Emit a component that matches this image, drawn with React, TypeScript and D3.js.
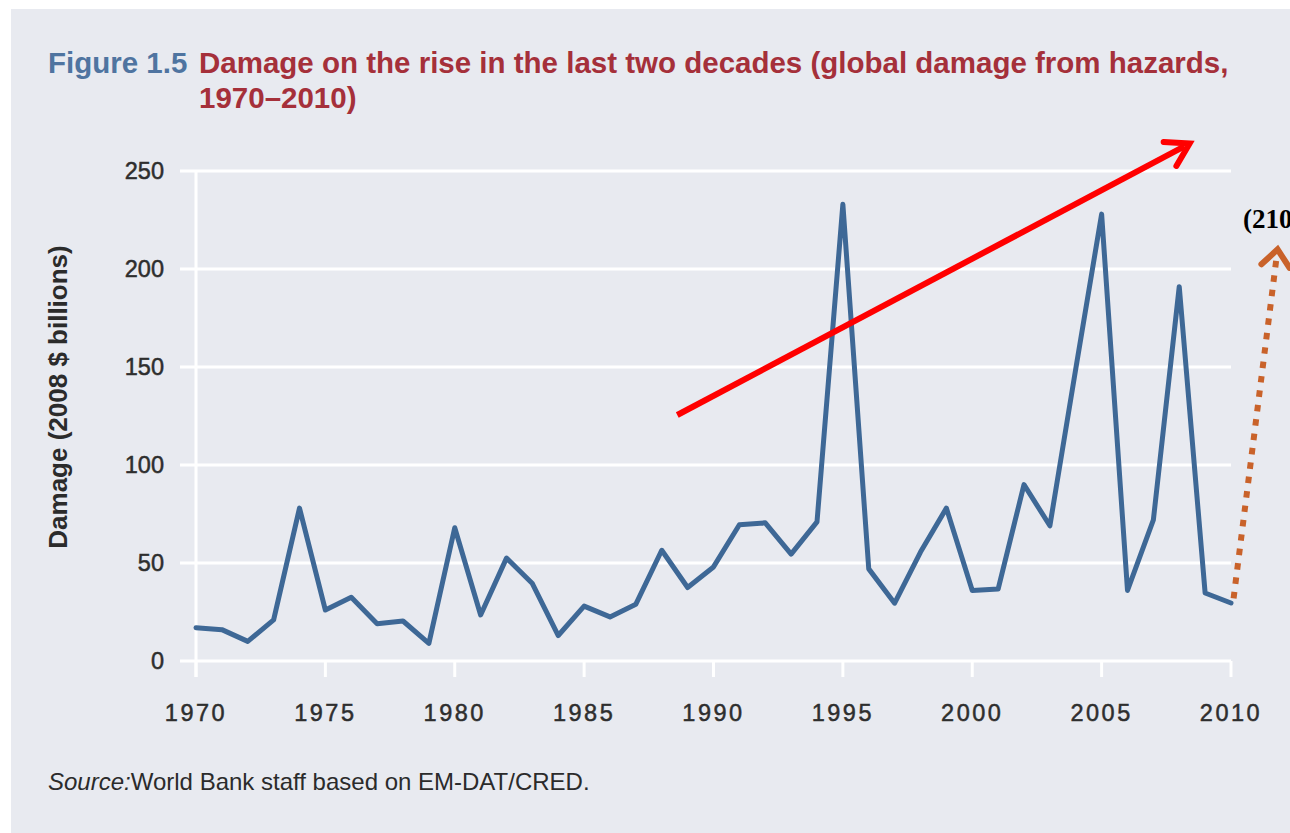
import React from "react";
import * as d3 from "d3";

const years: number[] = d3.range(1970, 2011);
const damage: number[] = [
  17, 16, 10, 21, 78, 26, 32.5, 19, 20.4, 9,
  68, 23.5, 52.5, 39.5, 13, 28, 22.5, 29, 56.5, 37.5,
  48, 69.5, 70.5, 54.5, 71, 233, 47, 29.5, 55.6, 78,
  36, 36.7, 90, 69, 149, 228, 36, 72, 191, 34.7, 29.6,
];
const yTicks: number[] = [0, 50, 100, 150, 200, 250];
const xTicks: number[] = [1970, 1975, 1980, 1985, 1990, 1995, 2000, 2005, 2010];

// annotations in data units
const redArrow: [number, number][] = [[1988.6, 125.5], [2008.4, 264]];
const orangeArrow: [number, number][] = [[2010.1, 32], [2011.8, 210]];

const W = 1290;
const H = 833;

export default function App() {
  const x = d3.scaleLinear().domain([1970, 2010]).range([196, 1231]);
  const y = d3.scaleLinear().domain([0, 250]).range([661, 171]);
  const line = d3
    .line<number>()
    .x((_, i) => x(years[i]))
    .y((d) => y(d));

  const axisFont = "'Liberation Sans', Arial, sans-serif";

  const r0 = [x(redArrow[0][0]), y(redArrow[0][1])];
  const r1 = [x(redArrow[1][0]), y(redArrow[1][1])];
  const rAng = Math.atan2(r1[1] - r0[1], r1[0] - r0[0]);
  const head = (p: number[], ang: number, len: number, spread: number) => {
    const a1 = ang + Math.PI - spread;
    const a2 = ang + Math.PI + spread;
    return `M${p[0] + len * Math.cos(a1)},${p[1] + len * Math.sin(a1)} L${p[0]},${p[1]} L${p[0] + len * Math.cos(a2)},${p[1] + len * Math.sin(a2)}`;
  };
  const o0 = [x(orangeArrow[0][0]), y(orangeArrow[0][1])];
  const o1 = [x(orangeArrow[1][0]), y(orangeArrow[1][1])];
  const oAng = Math.atan2(o1[1] - o0[1], o1[0] - o0[0]);

  const labelStyle = {
    fontFamily: axisFont,
    fontSize: 23.5,
    fill: "#2e2e2e",
    stroke: "#2e2e2e",
    strokeWidth: 0.5,
  } as const;

  return (
    <svg
      width={W}
      height={H}
      style={{ position: "absolute", left: 0, top: 0, display: "block" }}
    >
      <rect x={0} y={0} width={W} height={H} fill="#ffffff" />
      <rect x={11} y={9} width={W - 11} height={H - 9} fill="#e8eaf0" />

      {/* title */}
      <text x={48} y={73} fontFamily={axisFont} fontWeight="bold" fontSize={29.5} fill="#4f74a0">
        Figure 1.5
      </text>
      <text x={199} y={73} fontFamily={axisFont} fontWeight="bold" fontSize={29.5} fill="#a5303a">
        Damage on the rise in the last two decades (global damage from hazards,
      </text>
      <text x={199} y={108} fontFamily={axisFont} fontWeight="bold" fontSize={29.5} fill="#a5303a">
        1970–2010)
      </text>

      {/* gridlines */}
      {yTicks.map((t) => (
        <line key={t} x1={180} x2={x(2010)} y1={y(t)} y2={y(t)} stroke="#ffffff" strokeWidth={3} />
      ))}
      <line x1={x(1970)} x2={x(1970)} y1={y(250)} y2={677} stroke="#ffffff" strokeWidth={3} />
      {xTicks.map((t) => (
        <line key={t} x1={x(t)} x2={x(t)} y1={y(0)} y2={677} stroke="#ffffff" strokeWidth={3} />
      ))}

      {/* y tick labels */}
      {yTicks.map((t) => (
        <text key={t} x={164} y={y(t)} dy="0.36em" textAnchor="end" {...labelStyle}>
          {t}
        </text>
      ))}
      {/* x tick labels */}
      {xTicks.map((t) => (
        <text key={t} x={x(t)} y={721} textAnchor="middle" letterSpacing={2.5} {...labelStyle}>
          {t}
        </text>
      ))}
      <text
        transform={`translate(67,${397}) rotate(-90)`}
        textAnchor="middle"
        fontFamily={axisFont}
        fontWeight="bold"
        fontSize={26}
        fill="#2b2b2b"
      >
        Damage (2008 $ billions)
      </text>

      {/* data line */}
      <path
        d={line(damage) || ""}
        fill="none"
        stroke="#3e6896"
        strokeWidth={5}
        strokeLinejoin="round"
        strokeLinecap="round"
      />

      {/* source */}
      <text x={48} y={790} fontFamily={axisFont} fontSize={24} fill="#2b2b2b">
        <tspan fontStyle="italic">Source:</tspan>
        <tspan>World Bank staff based on EM-DAT/CRED.</tspan>
      </text>

      {/* red arrow annotation */}
      <line
        x1={r0[0]}
        y1={r0[1]}
        x2={r1[0] - 6 * Math.cos(rAng)}
        y2={r1[1] - 6 * Math.sin(rAng)}
        stroke="#ff0000"
        strokeWidth={6}
      />
      <path d={head(r1, rAng, 26, 0.55)} fill="none" stroke="#ff0000" strokeWidth={6} strokeLinecap="round" strokeLinejoin="miter" />

      {/* orange dotted arrow */}
      <line
        x1={o0[0]}
        y1={o0[1]}
        x2={o1[0] - 8 * Math.cos(oAng)}
        y2={o1[1] - 8 * Math.sin(oAng)}
        stroke="#c9622a"
        strokeWidth={6}
        strokeDasharray="6.5,8"
      />
      <path d={head(o1, oAng, 22, 0.7)} fill="none" stroke="#c9622a" strokeWidth={6} strokeLinecap="round" />

      <text
        x={1243}
        y={228}
        fontFamily="'Liberation Serif', 'DejaVu Serif', serif"
        fontWeight="bold"
        fontSize={27}
        fill="#000000"
      >
        (210
      </text>
    </svg>
  );
}
